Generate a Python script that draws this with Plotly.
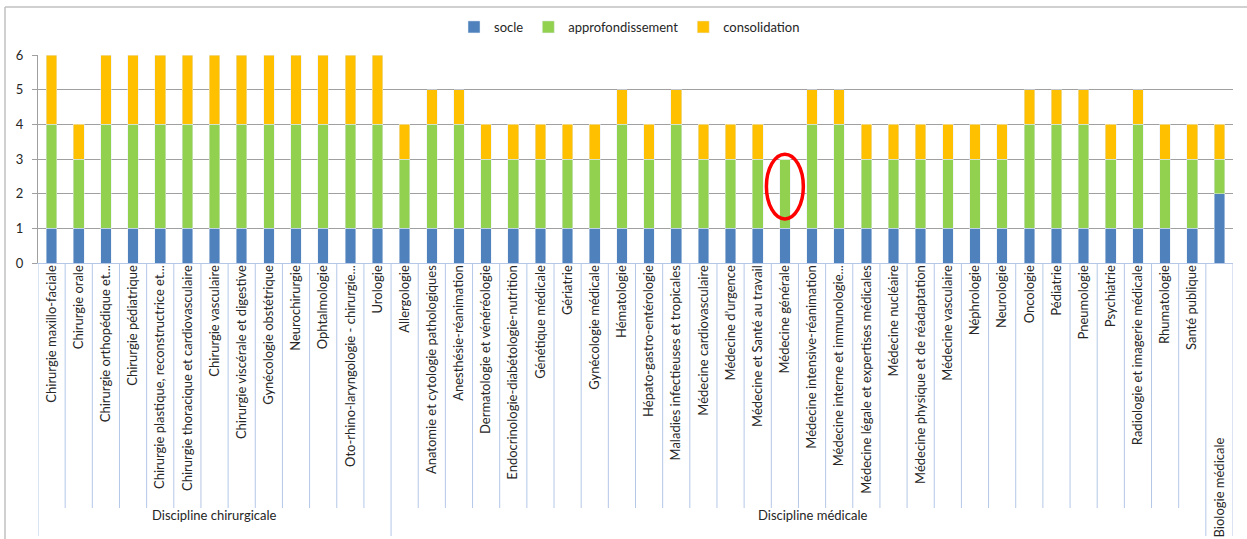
import plotly.graph_objects as go

categories = [
    "Chirurgie maxillo-faciale", "Chirurgie orale", "Chirurgie orthopédique et...",
    "Chirurgie pédiatrique", "Chirurgie plastique, reconstructrice et...",
    "Chirurgie thoracique et cardiovasculaire", "Chirurgie vasculaire",
    "Chirurgie viscérale et digestive", "Gynécologie obstétrique", "Neurochirurgie",
    "Ophtalmologie", "Oto-rhino-laryngologie - chirurgie...", "Urologie",
    "Allergologie", "Anatomie et cytologie pathologiques", "Anesthésie-réanimation",
    "Dermatologie et vénéréologie", "Endocrinologie-diabétologie-nutrition",
    "Génétique médicale", "Gériatrie", "Gynécologie médicale", "Hématologie",
    "Hépato-gastro-entérologie", "Maladies infectieuses et tropicales",
    "Médecine cardiovasculaire", "Médecine d’urgence", "Médecine et Santé au travail",
    "Médecine générale", "Médecine intensive-réanimation",
    "Médecine interne et immunologie...", "Médecine légale et expertises médicales",
    "Médecine nucléaire", "Médecine physique et de réadaptation", "Médecine vasculaire",
    "Néphrologie", "Neurologie", "Oncologie", "Pédiatrie", "Pneumologie", "Psychiatrie",
    "Radiologie et imagerie médicale", "Rhumatologie", "Santé publique",
    "Biologie médicale",
]
groups = ["Discipline chirurgicale"] * 13 + ["Discipline médicale"] * 30 + [""]

socle = [1] * 43 + [2]
approfondissement = [3, 2, 3, 3, 3, 3, 3, 3, 3, 3, 3, 3, 3,
                     2, 3, 3, 2, 2, 2, 2, 2, 3, 2, 3, 2, 2, 2, 2, 3, 3,
                     2, 2, 2, 2, 2, 2, 3, 3, 3, 2, 3, 2, 2,
                     1]
consolidation = [2, 1, 2, 2, 2, 2, 2, 2, 2, 2, 2, 2, 2,
                 1, 1, 1, 1, 1, 1, 1, 1, 1, 1, 1, 1, 1, 1, 0, 1, 1,
                 1, 1, 1, 1, 1, 1, 1, 1, 1, 1, 1, 1, 1,
                 1]
y_ticks = [0, 1, 2, 3, 4, 5, 6]
highlight = "Médecine générale"

n = len(categories)
xs = list(range(n))
font_family = "Lato, 'Open Sans', sans-serif"
txt_color = "#262626"

fig = go.Figure()
fig.add_bar(x=xs, y=socle, name="socle", marker_color="#4f81bd")
fig.add_bar(x=xs, y=approfondissement, name="approfondissement", marker_color="#92d050")
fig.add_bar(x=xs, y=consolidation, name="consolidation", marker_color="#ffc000")

ticktext = [c if g else "" for c, g in zip(categories, groups)]

T, B = 55, 276
plot_h = 539 - T - B

fig.update_layout(
    barmode="stack",
    bargap=0.61,
    width=1247, height=539,
    margin=dict(l=38, r=14, t=T, b=B, autoexpand=False),
    paper_bgcolor="white", plot_bgcolor="white",
    font=dict(family=font_family, size=13, color=txt_color),
    showlegend=True,
    legend=dict(orientation="h", x=0.495, xanchor="center", y=1 + (T - 27) / plot_h,
                yanchor="middle", font=dict(size=13), traceorder="normal", itemwidth=30),
    xaxis=dict(range=[-0.5, n - 0.5], tickmode="array", tickvals=xs, ticktext=ticktext,
               tickangle=-90, showgrid=False, zeroline=False, showline=True,
               linecolor="#b4c7e7", linewidth=1, ticks="", tickfont=dict(size=13),
               ticklabelstandoff=-4, automargin=False),
    yaxis=dict(range=[0, 6], tickvals=y_ticks, showgrid=True, gridcolor="#a0a0a0",
               gridwidth=1, zeroline=False, showline=True, linecolor="#a0a0a0",
               ticks="outside", ticklen=5, tickcolor="#a0a0a0", tickfont=dict(size=13),
               ticklabelstandoff=6, automargin=False),
)

shapes = []
sep_color = "#b4c7e7"
y_lvl1 = -(508 - 263) / plot_h
y_lvl2 = -(536 - 263) / plot_h
# category separators
for i in range(n + 1):
    x = i - 0.5
    if i == 0 or i == n or groups[min(i, n - 1)] != groups[i - 1]:
        y_end = y_lvl2
    else:
        y_end = y_lvl1
    shapes.append(dict(type="line", xref="x", yref="paper", x0=x, x1=x, y0=0, y1=y_end,
                       line=dict(color=sep_color, width=1)))
# highlight ellipse
hi = categories.index(highlight)
shapes.append(dict(type="circle", xref="x", yref="y", x0=hi - 0.68, x1=hi + 0.68,
                   y0=1.27, y1=3.14, line=dict(color="#ff0000", width=3.5)))
# outer chart border
pw = 1247 - 38 - 14
bx = -(38 - 5) / pw
by = 1 + (T - 7) / plot_h
shapes.append(dict(type="line", xref="paper", yref="paper", x0=bx, x1=1 + 14 / pw,
                   y0=by, y1=by, line=dict(color="#c0c0c0", width=1.5)))
shapes.append(dict(type="line", xref="paper", yref="paper", x0=bx, x1=bx,
                   y0=by, y1=-(545 - 263) / plot_h, line=dict(color="#c0c0c0", width=1.5)))
fig.update_layout(shapes=shapes)

# group labels
annotations = []
surg_idx = [i for i, g in enumerate(groups) if g == "Discipline chirurgicale"]
med_idx = [i for i, g in enumerate(groups) if g == "Discipline médicale"]
annotations.append(dict(x=(surg_idx[0] - 0.5 + surg_idx[-1] + 0.5) / 2, xref="x",
                        y=-(525 - 263) / plot_h, yref="paper",
                        text="Discipline chirurgicale", showarrow=False,
                        font=dict(size=13, color=txt_color)))
annotations.append(dict(x=(med_idx[0] - 0.5 + n - 0.5) / 2, xref="x",
                        y=-(525 - 263) / plot_h, yref="paper",
                        text="Discipline médicale", showarrow=False,
                        font=dict(size=13, color=txt_color)))
annotations.append(dict(x=n - 1, xref="x", y=-(487 - 263) / plot_h, yref="paper",
                        yanchor="middle", text=categories[-1], textangle=-90,
                        showarrow=False, font=dict(size=13, color=txt_color)))
fig.update_layout(annotations=annotations)

fig.write_html("out.html", config={"displayModeBar": False},
               post_script="document.body.style.margin='0';document.body.style.overflow='hidden';")
